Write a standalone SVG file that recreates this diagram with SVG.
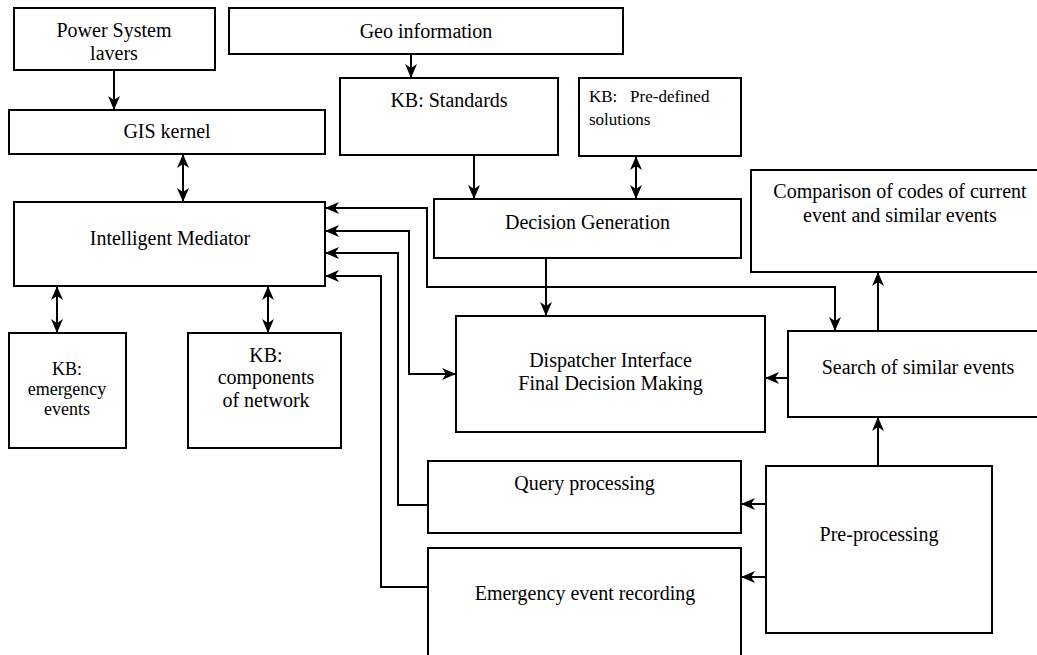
<svg xmlns="http://www.w3.org/2000/svg" width="1037" height="655" viewBox="0 0 1037 655">
<defs>
<marker id="ah" viewBox="0 0 14 12" refX="14" refY="6" markerWidth="14" markerHeight="12" markerUnits="userSpaceOnUse" orient="auto-start-reverse">
<path d="M0,0 L14,6 L0,12 L4,6 Z" fill="#000"/>
</marker>
</defs>
<style>
.box{fill:#fff;stroke:#000;stroke-width:2}
.t{font-family:"Liberation Serif","Times New Roman",serif;font-size:20px;fill:#000;text-anchor:middle}
.s{font-size:17px}
.m{font-size:18px}
.c{fill:none;stroke:#000;stroke-width:2}
.e{marker-end:url(#ah)}
.b{marker-start:url(#ah);marker-end:url(#ah)}
</style>
<rect width="1037" height="655" fill="#fff"/>
<g id="connectors">
<path class="c e" d="M114,70 V110"/>
<path class="c b" d="M183,154 V202"/>
<path class="c e" d="M411,54 V78"/>
<path class="c e" d="M474,155 V199"/>
<path class="c b" d="M636,156 V199"/>
<path class="c e" d="M546,258 V316"/>
<path class="c b" d="M325,208 H427 V287 H835 V331"/>
<path class="c b" d="M325,231 H409 V374 H456"/>
<path class="c e" d="M428,505 H398 V253 H325"/>
<path class="c e" d="M428,587 H381 V276 H325"/>
<path class="c b" d="M57,286 V333"/>
<path class="c b" d="M268,286 V333"/>
<path class="c e" d="M788,378 H765"/>
<path class="c e" d="M878,331 V272"/>
<path class="c e" d="M878,466 V417"/>
<path class="c e" d="M766,504 H741"/>
<path class="c e" d="M766,577 H741"/>
</g>
<g id="power-system-layers">
<rect class="box" x="14" y="8" width="201" height="62"/>
<text class="t" x="114" y="37">Power System</text>
<text class="t" x="114" y="60">lavers</text>
</g>
<g id="geo-information">
<rect class="box" x="229" y="8" width="394" height="46"/>
<text class="t" x="426" y="38">Geo information</text>
</g>
<g id="gis-kernel">
<rect class="box" x="9" y="110" width="316" height="44"/>
<text class="t" x="167" y="138">GIS kernel</text>
</g>
<g id="kb-standards">
<rect class="box" x="340" y="78" width="218" height="77"/>
<text class="t" x="449" y="107">KB: Standards</text>
</g>
<g id="kb-predefined">
<rect class="box" x="579" y="78" width="162" height="78"/>
<text class="t s" x="589" y="102" style="text-anchor:start;white-space:pre" xml:space="preserve">KB:   Pre-defined</text>
<text class="t s" x="589" y="125" style="text-anchor:start">solutions</text>
</g>
<g id="decision-generation">
<rect class="box" x="434" y="199" width="307" height="59"/>
<text class="t" x="587.5" y="229">Decision Generation</text>
</g>
<g id="comparison">
<rect class="box" x="751" y="170" width="300" height="102"/>
<text class="t" x="900" y="198">Comparison of codes of current</text>
<text class="t" x="900" y="222">event and similar events</text>
</g>
<g id="intelligent-mediator">
<rect class="box" x="14" y="202" width="311" height="84"/>
<text class="t" x="170" y="245">Intelligent Mediator</text>
</g>
<g id="kb-emergency-events">
<rect class="box" x="9" y="333" width="117" height="115"/>
<text class="t m" x="67" y="375">KB:</text>
<text class="t m" x="67" y="395">emergency</text>
<text class="t m" x="67" y="415">events</text>
</g>
<g id="kb-components">
<rect class="box" x="188" y="333" width="153" height="115"/>
<text class="t" x="266" y="362">KB:</text>
<text class="t" x="266" y="384">components</text>
<text class="t" x="266" y="407">of network</text>
</g>
<g id="dispatcher-interface">
<rect class="box" x="456" y="316" width="309" height="116"/>
<text class="t" x="610.5" y="367">Dispatcher Interface</text>
<text class="t" x="610.5" y="390">Final Decision Making</text>
</g>
<g id="search-similar">
<rect class="box" x="788" y="331" width="300" height="86"/>
<text class="t" x="918" y="374">Search of similar events</text>
</g>
<g id="query-processing">
<rect class="box" x="428" y="461" width="313" height="72"/>
<text class="t" x="584.5" y="490">Query processing</text>
</g>
<g id="emergency-event-recording">
<rect class="box" x="428" y="548" width="313" height="130"/>
<text class="t" x="585" y="600">Emergency event recording</text>
</g>
<g id="pre-processing">
<rect class="box" x="766" y="466" width="226" height="167"/>
<text class="t" x="879" y="541">Pre-processing</text>
</g>
</svg>
